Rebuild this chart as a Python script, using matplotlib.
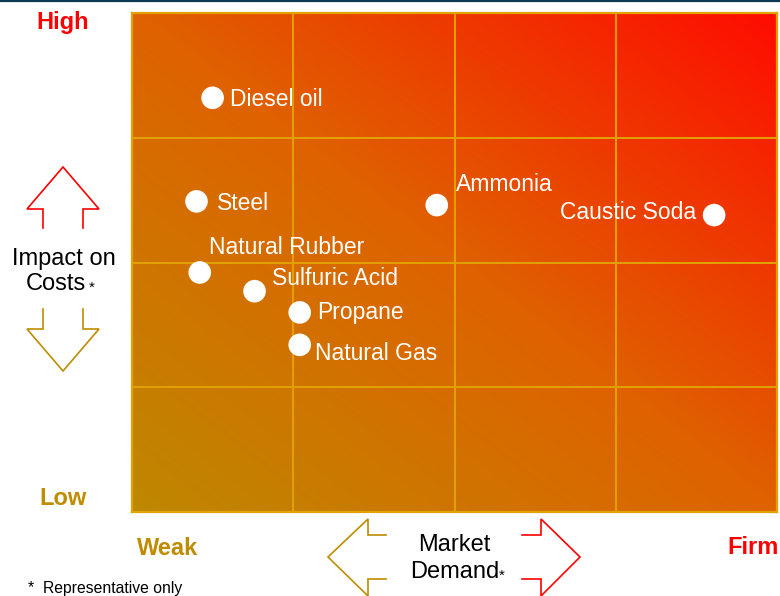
import numpy as np
import matplotlib
matplotlib.use("Agg")
import matplotlib.pyplot as plt
from matplotlib.colors import LinearSegmentedColormap
from matplotlib.lines import Line2D

# ========= DATA =========
products = ["Diesel oil", "Steel", "Ammonia", "Caustic Soda",
            "Natural Rubber", "Sulfuric Acid", "Propane", "Natural Gas"]
market_demand = [0.50, 0.40, 1.89, 3.61, 0.42, 0.76, 1.04, 1.04]   # Weak (0) -> Firm (4)
cost_impact = [3.32, 2.49, 2.46, 2.38, 1.92, 1.77, 1.60, 1.34]     # Low (0) -> High (4)

# label offsets in pixels (dx, baseline dy) and horizontal alignment
label_pos = {
    "Diesel oil": (17, -8.5, "left"),
    "Steel": (20, -9, "left"),
    "Ammonia": (19, 14, "left"),
    "Caustic Soda": (-18, -4, "right"),
    "Natural Rubber": (9, 18, "left"),
    "Sulfuric Acid": (17, 6, "left"),
    "Propane": (17, -7, "left"),
    "Natural Gas": (15, -15, "left"),
}

W, H = 780, 596
RED = "#FF0000"
GOLD = "#BF8C00"
GRID = "#E2A200"
FONT = "Liberation Sans"

plt.rcParams["font.family"] = FONT

fig = plt.figure(figsize=(W / 100, H / 100), dpi=100)
ax = fig.add_axes([132 / W, (H - 512) / H, 645 / W, 499 / H])

# diagonal gradient background
cmap = LinearSegmentedColormap.from_list(
    "bg", [(0.0, "#BE8800"), (0.5, "#DF6200"), (1.0, "#FF0C00")])
gx, gy = np.meshgrid(np.linspace(0, 1, 300), np.linspace(0, 1, 300))
grad = (gx + gy) / 2
ax.imshow(grad, cmap=cmap, origin="lower", extent=[0, 4, 0, 4],
          aspect="auto", interpolation="bilinear", zorder=0)

ax.set_xlim(0, 4)
ax.set_ylim(0, 4)
for v in [1, 2, 3]:
    ax.axvline(v, color=GRID, lw=1.4, zorder=1)
    ax.axhline(v, color=GRID, lw=1.4, zorder=1)
for s in ax.spines.values():
    s.set_color(GRID)
    s.set_linewidth(1.6)
ax.set_xticks([])
ax.set_yticks([])

ax.scatter(market_demand, cost_impact, s=265, color="white",
           edgecolors="none", zorder=3)
for name, x, y in zip(products, market_demand, cost_impact):
    dx, dy, ha = label_pos[name]
    ax.annotate(name, (x, y), xytext=(dx, dy), textcoords="offset pixels",
                ha=ha, va="baseline", color="white", fontsize=16.5, zorder=4)


def fx(x):
    return x / W


def fy(y):
    return 1 - y / H


def label(x, y, s, size=17, **kw):
    fig.text(fx(x), fy(y), s, fontsize=size, va="baseline", **kw)


# corner labels
label(63, 29, "High", color=RED, fontweight="bold", ha="center")
label(63, 505, "Low", color=GOLD, fontweight="bold", ha="center")
label(168, 555, "Weak", color=GOLD, fontweight="bold", ha="center")
label(753, 554, "Firm", color=RED, fontweight="bold", ha="center")

# axis titles with small asterisk
label(64, 265, "Impact on", ha="center")
label(56, 290, "Costs", ha="center")
label(91.5, 292, "*", size=11, ha="center")
label(454, 551, "Market", ha="center")
label(454.5, 578, "Demand", ha="center")
label(502, 580, "*", size=11, ha="center")

label(28, 593, "*  Representative only", size=11.3, ha="left")


# outlined arrows
def outline(pts, color):
    xs = [fx(p[0]) for p in pts]
    ys = [fy(p[1]) for p in pts]
    fig.add_artist(Line2D(xs, ys, color=color, lw=1.2,
                          transform=fig.transFigure, solid_joinstyle="miter"))


outline([(43, 228), (43, 209), (27, 209), (63, 167), (99, 209), (83, 209), (83, 228)], RED)
outline([(43, 309), (43, 329), (27, 329), (63, 371), (99, 329), (83, 329), (83, 309)], GOLD)
outline([(386, 535), (368, 535), (368, 519), (328, 557), (368, 596), (368, 579), (386, 579)], GOLD)
outline([(522, 535), (541, 535), (541, 519), (580, 557), (541, 596), (541, 579), (522, 579)], RED)

# thin dark rule at the very top
fig.add_artist(Line2D([0, 1], [fy(0.8), fy(0.8)], color="#0B3A52", lw=1.6,
                      transform=fig.transFigure))

fig.savefig("out.png", dpi=100)
